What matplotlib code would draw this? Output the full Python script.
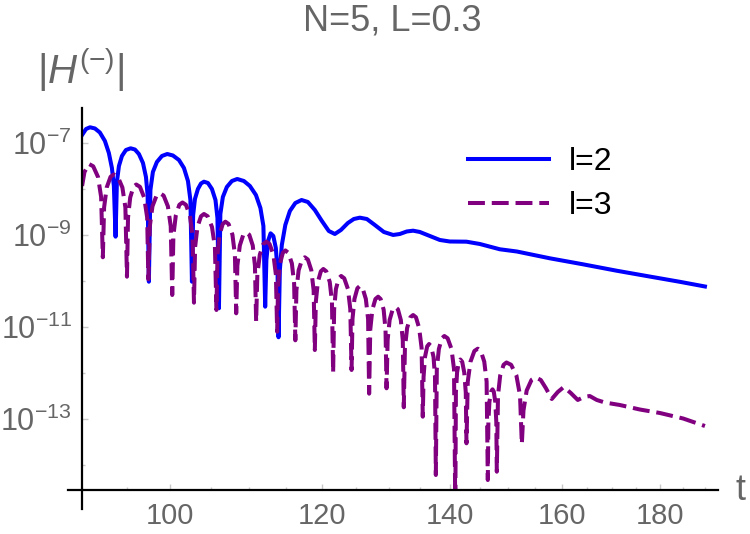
import numpy as np
import matplotlib
matplotlib.use("Agg")
import matplotlib.pyplot as plt
from matplotlib.ticker import FixedLocator, FixedFormatter, NullFormatter

plt.rcParams['font.family'] = ['Liberation Sans', 'DejaVu Sans']
plt.rcParams['mathtext.fontset'] = 'custom'
plt.rcParams['mathtext.rm'] = 'Liberation Sans'
plt.rcParams['mathtext.it'] = 'Liberation Sans:italic'

# l=2 : time and log10|H|
t_l2 = [90.0, 90.43, 90.86, 91.40, 91.94, 92.50, 92.94, 93.28, 93.50, 93.69,
        93.84, 94.07, 94.41, 94.86, 95.40, 95.89, 96.35, 96.82, 97.17, 97.36, 97.51,
        97.69, 97.98, 98.45, 99.05, 99.68, 100.36, 101.09, 101.70, 102.19, 102.49, 102.68,
        102.83, 103.05, 103.42, 103.80, 104.17, 104.67, 105.17, 105.62, 105.87, 106.06,
        106.24, 106.56, 107.07, 107.72, 108.41, 109.28, 110.07, 110.87, 111.47, 111.87, 112.11,
        112.27, 112.54, 112.84, 113.21, 113.55, 113.78, 113.92,
        114.10, 114.37, 114.85, 115.48, 116.24, 117.11, 118.0, 118.99, 120.0, 121.0,
        121.88, 122.77, 123.8, 124.69, 125.59, 126.65, 127.87, 129.26, 130.71, 131.76,
        132.87, 133.88, 134.96, 136.59, 138.24, 139.9, 142.72, 145.03, 148.55, 151.6,
        157.73, 164.1, 170.9, 178.0, 184.35, 190.0]
logh_l2 = [-6.82, -6.689, -6.652, -6.678, -6.765, -6.95, -7.211, -7.537, -7.928, -9.03,
           -7.841, -7.493, -7.276, -7.146, -7.109, -7.135, -7.233, -7.428, -7.733, -8.124, -10.009,
           -8.015, -7.624, -7.407, -7.276, -7.233, -7.265, -7.363, -7.537, -7.82, -8.233, -10.009,
           -8.559, -8.211, -7.993, -7.874, -7.835, -7.863, -7.993, -8.233, -8.624, -10.587,
           -8.537, -8.167, -7.95, -7.82, -7.776, -7.82, -7.928, -8.124, -8.407, -8.798, -10.552,
           -9.537, -9.102, -8.957, -9.015, -9.276, -9.754, -11.217,
           -9.754, -9.211, -8.776, -8.472, -8.298, -8.233, -8.276, -8.45, -8.689, -8.907,
           -8.972, -8.885, -8.733, -8.646, -8.617, -8.646, -8.776, -8.928, -8.993, -8.972,
           -8.917, -8.9, -8.928, -9.015, -9.102, -9.135, -9.139, -9.189, -9.304, -9.352,
           -9.5, -9.63, -9.77, -9.9, -10.011, -10.113]

# l=3 : time and log10|H|
t_l3 = [90.0, 90.26, 90.75, 91.21, 91.74, 92.08, 92.27,
        92.41, 92.70, 93.13, 93.50, 93.94, 94.46, 94.80, 94.98,
        95.10, 95.35, 95.72, 96.04, 96.47, 96.96, 97.31, 97.45,
        97.62, 97.93, 98.41, 98.81, 99.25, 99.76, 100.10, 100.28,
        100.42, 100.71, 101.14, 101.52, 101.94, 102.43, 102.75, 102.93,
        103.07, 103.36, 103.80, 104.17, 104.64, 105.18, 105.55, 105.74,
        105.88, 106.14, 106.54, 106.88, 107.29, 107.79, 108.11, 108.28,
        108.43, 108.75, 109.20, 109.61, 109.99, 110.45, 110.74, 110.90,
        111.06, 111.39, 111.86, 112.27, 112.70, 113.22, 113.56, 113.73,
        113.87, 114.13, 114.51, 114.86, 115.27, 115.76, 116.07, 116.24,
        116.39, 116.70, 117.18, 117.57, 118.00, 118.49, 118.82, 118.99,
        119.13, 119.42, 119.85, 120.21, 120.63, 121.14, 121.46, 121.63,
        121.78, 122.04, 122.46, 122.81, 123.26, 123.81, 124.16, 124.35,
        124.49, 124.78, 125.22, 125.59, 126.01, 126.50, 126.84, 127.00,
        127.17, 127.49, 127.96, 128.38, 128.76, 129.23, 129.52, 129.68,
        129.85, 130.16, 130.64, 131.05, 131.46, 131.92, 132.23, 132.39,
        132.57, 132.92, 133.43, 133.88, 134.34, 134.85, 135.25, 135.44,
        135.57, 135.80, 136.16, 136.47, 136.80, 137.20, 137.44, 137.58,
        137.74, 138.08, 138.57, 138.99, 139.54, 140.19, 140.61, 140.83,
        140.93, 141.13, 141.42, 141.68, 142.00, 142.35, 142.61, 142.73,
        142.95, 143.42, 144.09, 144.68, 145.20, 145.81, 146.22, 146.43,
        146.53, 146.71, 147.01, 147.26, 147.48, 147.75, 147.93, 148.02,
        148.23, 148.62, 149.23, 149.74, 150.58, 151.54, 152.20, 152.53,
        152.83, 153.42, 154.32, 155.11, 156.04, 156.98, 158.11, 159.25, 160.40, 161.75,
        163.12, 164.30, 165.48, 166.88, 168.49, 171.55, 175.72, 180.0, 185.1, 190.0]
logh_l3 = [-7.928, -7.624, -7.450, -7.500, -7.733, -8.167, -9.478,
           -8.396, -7.961, -7.728, -7.678, -7.728, -7.961, -8.396, -9.900,
           -8.613, -8.178, -7.946, -7.896, -7.946, -8.178, -8.613, -9.957,
           -8.804, -8.370, -8.137, -8.087, -8.137, -8.370, -8.804, -10.298,
           -9.004, -8.570, -8.337, -8.287, -8.337, -8.570, -9.004, -10.465,
           -9.254, -8.820, -8.587, -8.537, -8.587, -8.820, -9.254, -10.624,
           -9.422, -8.987, -8.754, -8.704, -8.754, -8.987, -9.422, -10.696,
           -9.657, -9.222, -8.989, -8.939, -8.989, -9.222, -9.657, -10.878,
           -9.857, -9.422, -9.189, -9.139, -9.189, -9.422, -9.857, -11.096,
           -10.048, -9.613, -9.380, -9.330, -9.380, -9.613, -10.048, -11.283,
           -10.196, -9.761, -9.528, -9.478, -9.528, -9.761, -10.196, -11.494,
           -10.450, -10.015, -9.783, -9.733, -9.783, -10.015, -10.450, -11.987,
           -10.602, -10.167, -9.935, -9.885, -9.935, -10.167, -10.602, -11.928,
           -10.820, -10.385, -10.152, -10.102, -10.152, -10.385, -10.820, -12.443,
           -11.052, -10.617, -10.385, -10.335, -10.385, -10.617, -11.052, -12.326,
           -11.276, -10.841, -10.609, -10.559, -10.609, -10.841, -11.276, -12.739,
           -11.450, -11.015, -10.783, -10.733, -10.783, -11.015, -11.450, -12.943,
           -12.080, -11.646, -11.413, -11.363, -11.413, -11.646, -12.080, -14.211,
           -11.907, -11.472, -11.239, -11.189, -11.239, -11.472, -11.907, -15.0,
           -12.417, -11.983, -11.750, -11.700, -11.750, -11.983, -12.417, -13.522,
           -12.183, -11.748, -11.515, -11.465, -11.515, -11.748, -12.183, -14.320,
           -13.059, -12.624, -12.396, -12.348, -12.396, -12.624, -13.059, -14.139,
           -12.483, -12.048, -11.815, -11.765, -11.815, -12.048, -12.483, -13.537,
           -12.809, -12.374, -12.141, -12.091, -12.146, -12.320, -12.559, -12.407, -12.298, -12.428,
           -12.580, -12.515, -12.494, -12.580, -12.635, -12.689, -12.787, -12.863, -12.983, -13.146]

x_major = [100, 120, 140, 160, 180]
x_minor = [90, 95, 105, 110, 115, 125, 130, 135, 145, 150, 155, 165, 170, 175, 185, 190]
y_major = [1e-7, 1e-9, 1e-11, 1e-13]
y_labels = [r'$\mathregular{10^{-7}}$', r'$\mathregular{10^{-9}}$',
            r'$\mathregular{10^{-11}}$', r'$\mathregular{10^{-13}}$']
y_minor = [1e-8, 1e-10, 1e-12, 1e-14]

gray = '#666666'

fig = plt.figure(figsize=(7.5, 5.34), dpi=100)
ax = fig.add_axes([81.7 / 750, 44 / 534, 636.3 / 750, 382 / 534])

ax.plot(t_l2, 10 ** np.array(logh_l2), color='#0000ff', lw=2.9,
        solid_joinstyle='round', label='l=2')
ax.plot(t_l3, 10 ** np.array(logh_l3), color='#800080', lw=2.9,
        dashes=(4.2, 1.7), label='l=3')

ax.set_xscale('log')
ax.set_yscale('log')
ax.set_xlim(89.96, 193.0)
ax.set_ylim(10 ** -14.537, 10 ** -6.233)

ax.xaxis.set_major_locator(FixedLocator(x_major))
ax.xaxis.set_major_formatter(FixedFormatter([str(v) for v in x_major]))
ax.xaxis.set_minor_locator(FixedLocator(x_minor))
ax.xaxis.set_minor_formatter(NullFormatter())
ax.yaxis.set_major_locator(FixedLocator(y_major))
ax.yaxis.set_major_formatter(FixedFormatter(y_labels))
ax.yaxis.set_minor_locator(FixedLocator(y_minor))
ax.yaxis.set_minor_formatter(NullFormatter())

ax.tick_params(which='both', direction='in', color='#c8c8c8', width=1)
ax.tick_params(which='major', length=4)
ax.tick_params(which='minor', length=2.5)
ax.tick_params(axis='x', which='major', labelsize=21, labelcolor=gray, pad=9)
ax.tick_params(axis='y', which='major', labelsize=22, labelcolor=gray, pad=7)

for s in ax.spines.values():
    s.set_visible(False)
# axes crossing like Mathematica
ax.plot([-13.7 / 636.3, 1], [0, 0], transform=ax.transAxes, color='black',
        lw=1.6, clip_on=False, zorder=5)
ax.plot([0, 0], [-19 / 382, 1], transform=ax.transAxes, color='black',
        lw=1.6, clip_on=False, zorder=5)

fig.text(392.5 / 750, 1 - 21 / 534, 'N=5, L=0.3', ha='center', va='center',
         fontsize=26, color=gray)
fig.text(37 / 750, 1 - 70 / 534, r'$|H^{(-)}|$', ha='left', va='center',
         fontsize=29, color=gray)
fig.text(741 / 750, 1 - 490 / 534, 't', ha='center', va='center',
         fontsize=26, color=gray)

ax.legend(loc='center left', bbox_to_anchor=(468 / 750, 1 - 184 / 534),
          bbox_transform=fig.transFigure, frameon=False, fontsize=23,
          handlelength=2.55, handletextpad=0.6, labelspacing=0.45,
          borderpad=0, borderaxespad=0)

fig.savefig('out.png', dpi=100)
